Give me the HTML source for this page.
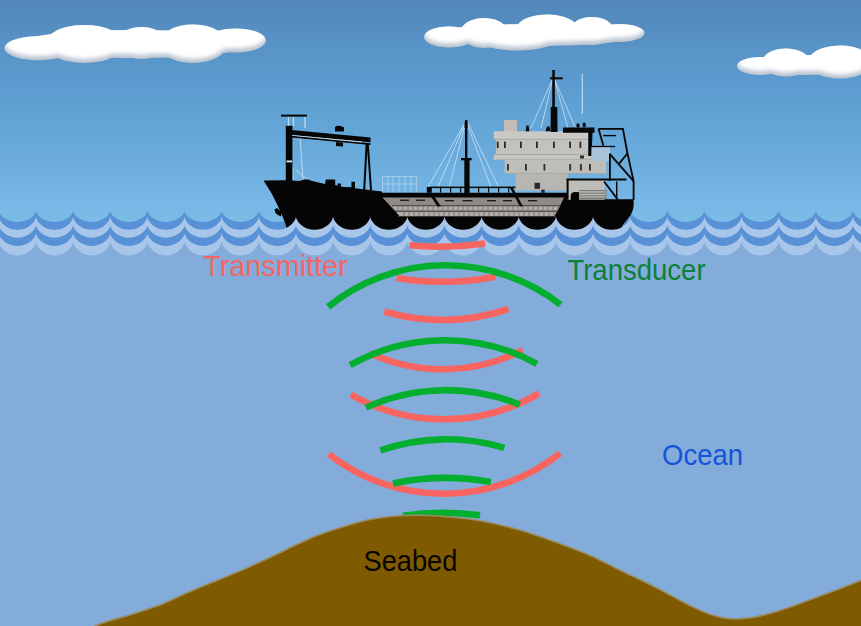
<!DOCTYPE html>
<html><head><meta charset="utf-8">
<style>
html,body{margin:0;padding:0;background:#83acda;}
body{width:861px;height:626px;overflow:hidden;}
svg{display:block;}
text{font-family:"Liberation Sans",sans-serif;}
</style></head>
<body>
<svg width="861" height="626" viewBox="0 0 861 626">
<defs>
<linearGradient id="sky" x1="0" y1="0" x2="0" y2="260" gradientUnits="userSpaceOnUse">
<stop offset="0.000" stop-color="#5186ba"/>
<stop offset="0.077" stop-color="#558cbf"/>
<stop offset="0.154" stop-color="#5792c6"/>
<stop offset="0.308" stop-color="#5b9ace"/>
<stop offset="0.462" stop-color="#62a4d6"/>
<stop offset="0.615" stop-color="#6bacdd"/>
<stop offset="0.769" stop-color="#77b7e5"/>
<stop offset="0.846" stop-color="#7bbbe8"/>
<stop offset="1.000" stop-color="#7ebde9"/>
</linearGradient>
<radialGradient id="cl" cx="0.5" cy="0.38" r="0.62">
<stop offset="0" stop-color="#ffffff"/>
<stop offset="0.62" stop-color="#fbfbfb"/>
<stop offset="0.85" stop-color="#e9ecef"/>
<stop offset="1" stop-color="#c3ccd6"/>
</radialGradient>
<filter id="cb" x="-10%" y="-50%" width="120%" height="200%"><feGaussianBlur stdDeviation="2.3"/></filter>
<filter id="cb2" x="-10%" y="-50%" width="120%" height="200%"><feGaussianBlur stdDeviation="0.7"/></filter>
<clipPath id="cc0"><ellipse cx="38" cy="48.2" rx="33.5" ry="12"/><ellipse cx="84.5" cy="44" rx="39.5" ry="19"/><ellipse cx="141.5" cy="43" rx="25" ry="16"/><ellipse cx="193" cy="43.8" rx="34" ry="19.2"/><ellipse cx="236" cy="40.5" rx="30" ry="12"/><ellipse cx="135" cy="44" rx="118" ry="14"/></clipPath>
<g id="cg0"><ellipse cx="38" cy="48.2" rx="33.5" ry="12"/><ellipse cx="84.5" cy="44" rx="39.5" ry="19"/><ellipse cx="141.5" cy="43" rx="25" ry="16"/><ellipse cx="193" cy="43.8" rx="34" ry="19.2"/><ellipse cx="236" cy="40.5" rx="30" ry="12"/><ellipse cx="135" cy="44" rx="118" ry="14"/></g>
<clipPath id="cc1"><ellipse cx="449" cy="37" rx="25" ry="10.5"/><ellipse cx="484" cy="33" rx="24" ry="15"/><ellipse cx="517" cy="38" rx="42" ry="12.5"/><ellipse cx="547" cy="28" rx="30" ry="13.5"/><ellipse cx="592" cy="31" rx="22" ry="14"/><ellipse cx="620" cy="33" rx="24.5" ry="9"/><ellipse cx="535" cy="35" rx="105" ry="11"/></clipPath>
<g id="cg1"><ellipse cx="449" cy="37" rx="25" ry="10.5"/><ellipse cx="484" cy="33" rx="24" ry="15"/><ellipse cx="517" cy="38" rx="42" ry="12.5"/><ellipse cx="547" cy="28" rx="30" ry="13.5"/><ellipse cx="592" cy="31" rx="22" ry="14"/><ellipse cx="620" cy="33" rx="24.5" ry="9"/><ellipse cx="535" cy="35" rx="105" ry="11"/></g>
<clipPath id="cc2"><ellipse cx="760" cy="66" rx="23" ry="9"/><ellipse cx="786" cy="62.5" rx="24" ry="14"/><ellipse cx="840" cy="62" rx="32" ry="16.5"/><ellipse cx="805" cy="65" rx="65" ry="10"/></clipPath>
<g id="cg2"><ellipse cx="760" cy="66" rx="23" ry="9"/><ellipse cx="786" cy="62.5" rx="24" ry="14"/><ellipse cx="840" cy="62" rx="32" ry="16.5"/><ellipse cx="805" cy="65" rx="65" ry="10"/></g>
</defs>
<rect x="0" y="0" width="861" height="260" fill="url(#sky)"/>
<!-- clouds -->
<use href="#cg0" fill="#b9c3ce" filter="url(#cb2)"/>
<g clip-path="url(#cc0)"><use href="#cg0" fill="#ffffff" transform="translate(0,-4)" filter="url(#cb)"/></g>
<use href="#cg1" fill="#b9c3ce" filter="url(#cb2)"/>
<g clip-path="url(#cc1)"><use href="#cg1" fill="#ffffff" transform="translate(0,-4)" filter="url(#cb)"/></g>
<use href="#cg2" fill="#b9c3ce" filter="url(#cb2)"/>
<g clip-path="url(#cc2)"><use href="#cg2" fill="#ffffff" transform="translate(0,-4)" filter="url(#cb)"/></g>
<path d="M-38.3,210.8L-38.3,211.0L-38.1,211.5L-37.8,212.4L-37.2,213.6L-36.2,214.9L-34.9,216.4L-33.1,217.8L-31.0,219.1L-28.5,220.3L-25.8,221.2L-22.8,221.7L-19.7,221.9L-16.6,221.7L-13.7,221.2L-10.9,220.3L-8.4,219.1L-6.3,217.8L-4.5,216.4L-3.2,214.9L-2.2,213.6L-1.6,212.4L-1.3,211.5L-1.2,211.0L-1.1,210.8L-1.1,211.0L-1.0,211.5L-0.7,212.4L-0.1,213.6L0.9,214.9L2.2,216.4L4.0,217.8L6.1,219.1L8.6,220.3L11.4,221.2L14.4,221.7L17.4,221.9L20.5,221.7L23.5,221.2L26.3,220.3L28.7,219.1L30.9,217.8L32.6,216.4L34.0,214.9L34.9,213.6L35.5,212.4L35.9,211.5L36.0,211.0L36.0,210.8L36.0,211.0L36.1,211.5L36.5,212.4L37.1,213.6L38.0,214.9L39.4,216.4L41.1,217.8L43.3,219.1L45.7,220.3L48.5,221.2L51.5,221.7L54.6,221.9L57.6,221.7L60.6,221.2L63.4,220.3L65.9,219.1L68.0,217.8L69.8,216.4L71.1,214.9L72.1,213.6L72.7,212.4L73.0,211.5L73.1,211.0L73.1,210.8L73.2,211.0L73.3,211.5L73.6,212.4L74.2,213.6L75.2,214.9L76.5,216.4L78.3,217.8L80.4,219.1L82.9,220.3L85.7,221.2L88.6,221.7L91.7,221.9L94.8,221.7L97.8,221.2L100.5,220.3L103.0,219.1L105.1,217.8L106.9,216.4L108.2,214.9L109.2,213.6L109.8,212.4L110.1,211.5L110.3,211.0L110.3,210.8L110.3,211.0L110.4,211.5L110.7,212.4L111.3,213.6L112.3,214.9L113.6,216.4L115.4,217.8L117.5,219.1L120.0,220.3L122.8,221.2L125.8,221.7L128.8,221.9L131.9,221.7L134.9,221.2L137.7,220.3L140.1,219.1L142.3,217.8L144.0,216.4L145.4,214.9L146.3,213.6L146.9,212.4L147.3,211.5L147.4,211.0L147.4,210.8L147.4,211.0L147.5,211.5L147.9,212.4L148.5,213.6L149.4,214.9L150.8,216.4L152.5,217.8L154.7,219.1L157.2,220.3L159.9,221.2L162.9,221.7L166.0,221.9L169.1,221.7L172.0,221.2L174.8,220.3L177.3,219.1L179.4,217.8L181.2,216.4L182.5,214.9L183.5,213.6L184.1,212.4L184.4,211.5L184.5,211.0L184.5,210.8L184.6,211.0L184.7,211.5L185.0,212.4L185.6,213.6L186.6,214.9L187.9,216.4L189.7,217.8L191.8,219.1L194.3,220.3L197.1,221.2L200.0,221.7L203.1,221.9L206.2,221.7L209.2,221.2L211.9,220.3L214.4,219.1L216.6,217.8L218.3,216.4L219.7,214.9L220.6,213.6L221.2,212.4L221.5,211.5L221.7,211.0L221.7,210.8L221.7,211.0L221.8,211.5L222.1,212.4L222.8,213.6L223.7,214.9L225.1,216.4L226.8,217.8L228.9,219.1L231.4,220.3L234.2,221.2L237.2,221.7L240.2,221.9L243.3,221.7L246.3,221.2L249.1,220.3L251.6,219.1L253.7,217.8L255.4,216.4L256.8,214.9L257.7,213.6L258.4,212.4L258.7,211.5L258.8,211.0L258.8,210.8L258.8,211.0L259.0,211.5L259.3,212.4L259.9,213.6L260.8,214.9L262.2,216.4L263.9,217.8L266.1,219.1L268.6,220.3L271.3,221.2L274.3,221.7L277.4,221.9L280.5,221.7L283.4,221.2L286.2,220.3L288.7,219.1L290.8,217.8L292.6,216.4L293.9,214.9L294.9,213.6L295.5,212.4L295.8,211.5L295.9,211.0L296.0,210.8L296.0,211.0L296.1,211.5L296.4,212.4L297.0,213.6L298.0,214.9L299.3,216.4L301.1,217.8L303.2,219.1L305.7,220.3L308.5,221.2L311.4,221.7L314.5,221.9L317.6,221.7L320.6,221.2L323.3,220.3L325.8,219.1L328.0,217.8L329.7,216.4L331.1,214.9L332.0,213.6L332.6,212.4L332.9,211.5L333.1,211.0L333.1,210.8L333.1,211.0L333.2,211.5L333.6,212.4L334.2,213.6L335.1,214.9L336.5,216.4L338.2,217.8L340.3,219.1L342.8,220.3L345.6,221.2L348.6,221.7L351.7,221.9L354.7,221.7L357.7,221.2L360.5,220.3L363.0,219.1L365.1,217.8L366.9,216.4L368.2,214.9L369.2,213.6L369.8,212.4L370.1,211.5L370.2,211.0L370.2,210.8L370.2,211.0L370.4,211.5L370.7,212.4L371.3,213.6L372.3,214.9L373.6,216.4L375.3,217.8L377.5,219.1L380.0,220.3L382.7,221.2L385.7,221.7L388.8,221.9L391.9,221.7L394.8,221.2L397.6,220.3L400.1,219.1L402.2,217.8L404.0,216.4L405.3,214.9L406.3,213.6L406.9,212.4L407.2,211.5L407.3,211.0L407.4,210.8L407.4,211.0L407.5,211.5L407.8,212.4L408.4,213.6L409.4,214.9L410.7,216.4L412.5,217.8L414.6,219.1L417.1,220.3L419.9,221.2L422.9,221.7L425.9,221.9L429.0,221.7L432.0,221.2L434.7,220.3L437.2,219.1L439.4,217.8L441.1,216.4L442.5,214.9L443.4,213.6L444.0,212.4L444.4,211.5L444.5,211.0L444.5,210.8L444.5,211.0L444.6,211.5L445.0,212.4L445.6,213.6L446.5,214.9L447.9,216.4L449.6,217.8L451.8,219.1L454.2,220.3L457.0,221.2L460.0,221.7L463.1,221.9L466.1,221.7L469.1,221.2L471.9,220.3L474.4,219.1L476.5,217.8L478.3,216.4L479.6,214.9L480.6,213.6L481.2,212.4L481.5,211.5L481.6,211.0L481.6,210.8L481.6,211.0L481.8,211.5L482.1,212.4L482.7,213.6L483.7,214.9L485.0,216.4L486.8,217.8L488.9,219.1L491.4,220.3L494.2,221.2L497.1,221.7L500.2,221.9L503.3,221.7L506.2,221.2L509.0,220.3L511.5,219.1L513.6,217.8L515.4,216.4L516.7,214.9L517.7,213.6L518.3,212.4L518.6,211.5L518.8,211.0L518.8,210.8L518.8,211.0L518.9,211.5L519.2,212.4L519.8,213.6L520.8,214.9L522.1,216.4L523.9,217.8L526.0,219.1L528.5,220.3L531.3,221.2L534.3,221.7L537.3,221.9L540.4,221.7L543.4,221.2L546.2,220.3L548.6,219.1L550.8,217.8L552.5,216.4L553.9,214.9L554.8,213.6L555.4,212.4L555.8,211.5L555.9,211.0L555.9,210.8L555.9,211.0L556.0,211.5L556.4,212.4L557.0,213.6L557.9,214.9L559.3,216.4L561.0,217.8L563.2,219.1L565.7,220.3L568.4,221.2L571.4,221.7L574.5,221.9L577.5,221.7L580.5,221.2L583.3,220.3L585.8,219.1L587.9,217.8L589.7,216.4L591.0,214.9L592.0,213.6L592.6,212.4L592.9,211.5L593.0,211.0L593.0,210.8L593.1,211.0L593.2,211.5L593.5,212.4L594.1,213.6L595.1,214.9L596.4,216.4L598.2,217.8L600.3,219.1L602.8,220.3L605.6,221.2L608.5,221.7L611.6,221.9L614.7,221.7L617.7,221.2L620.4,220.3L622.9,219.1L625.1,217.8L626.8,216.4L628.1,214.9L629.1,213.6L629.7,212.4L630.0,211.5L630.2,211.0L630.2,210.8L630.2,211.0L630.3,211.5L630.6,212.4L631.2,213.6L632.2,214.9L633.5,216.4L635.3,217.8L637.4,219.1L639.9,220.3L642.7,221.2L645.7,221.7L648.7,221.9L651.8,221.7L654.8,221.2L657.6,220.3L660.1,219.1L662.2,217.8L663.9,216.4L665.3,214.9L666.2,213.6L666.8,212.4L667.2,211.5L667.3,211.0L667.3,210.8L667.3,211.0L667.5,211.5L667.8,212.4L668.4,213.6L669.3,214.9L670.7,216.4L672.4,217.8L674.6,219.1L677.1,220.3L679.8,221.2L682.8,221.7L685.9,221.9L689.0,221.7L691.9,221.2L694.7,220.3L697.2,219.1L699.3,217.8L701.1,216.4L702.4,214.9L703.4,213.6L704.0,212.4L704.3,211.5L704.4,211.0L704.4,210.8L704.5,211.0L704.6,211.5L704.9,212.4L705.5,213.6L706.5,214.9L707.8,216.4L709.6,217.8L711.7,219.1L714.2,220.3L717.0,221.2L719.9,221.7L723.0,221.9L726.1,221.7L729.1,221.2L731.8,220.3L734.3,219.1L736.5,217.8L738.2,216.4L739.6,214.9L740.5,213.6L741.1,212.4L741.4,211.5L741.6,211.0L741.6,210.8L741.6,211.0L741.7,211.5L742.0,212.4L742.7,213.6L743.6,214.9L745.0,216.4L746.7,217.8L748.8,219.1L751.3,220.3L754.1,221.2L757.1,221.7L760.2,221.9L763.2,221.7L766.2,221.2L769.0,220.3L771.5,219.1L773.6,217.8L775.3,216.4L776.7,214.9L777.6,213.6L778.3,212.4L778.6,211.5L778.7,211.0L778.7,210.8L778.7,211.0L778.9,211.5L779.2,212.4L779.8,213.6L780.7,214.9L782.1,216.4L783.8,217.8L786.0,219.1L788.5,220.3L791.2,221.2L794.2,221.7L797.3,221.9L800.4,221.7L803.3,221.2L806.1,220.3L808.6,219.1L810.7,217.8L812.5,216.4L813.8,214.9L814.8,213.6L815.4,212.4L815.7,211.5L815.8,211.0L815.9,210.8L815.9,211.0L816.0,211.5L816.3,212.4L816.9,213.6L817.9,214.9L819.2,216.4L821.0,217.8L823.1,219.1L825.6,220.3L828.4,221.2L831.3,221.7L834.4,221.9L837.5,221.7L840.5,221.2L843.2,220.3L845.7,219.1L847.9,217.8L849.6,216.4L851.0,214.9L851.9,213.6L852.5,212.4L852.9,211.5L853.0,211.0L853.0,210.8L853.0,211.0L853.1,211.5L853.5,212.4L854.1,213.6L855.0,214.9L856.4,216.4L858.1,217.8L860.3,219.1L862.7,220.3L865.5,221.2L868.5,221.7L871.6,221.9L874.6,221.7L877.6,221.2L880.4,220.3L882.9,219.1L885.0,217.8L886.8,216.4L888.1,214.9L889.1,213.6L889.7,212.4L890.0,211.5L890.1,211.0L890.1,210.8L890.1,211.0L890.3,211.5L890.6,212.4L891.2,213.6L892.2,214.9L893.5,216.4L895.3,217.8L897.4,219.1L899.9,220.3L902.6,221.2L905.6,221.7L908.7,221.9L911.8,221.7L914.7,221.2L917.5,220.3L920.0,219.1L922.1,217.8L923.9,216.4L925.2,214.9L926.2,213.6L926.8,212.4L927.1,211.5L927.2,211.0L927.3,210.8L927.3,640L-38.3,640Z" fill="#5891d5"/>
<g id="ship">
<!-- white stays (behind) -->
<g stroke="#cfe6f6" stroke-width="0.9" fill="none" opacity="0.85">
<path d="M466,121 L428,187 M466,121 L438,187 M466,121 L449,188 M466,121 L491,187 M467,121 L499,188"/>
<path d="M553,78 L531,128 M553,78 L541,128 M554,78 L568,128 M554,78 L575,127"/>
<path d="M582.3,74 L582.3,114" stroke-width="1.2"/>
<path d="M288.5,117 L288.5,126 M293.5,117 L293.5,126 M305,117 L305,128" stroke-width="1.3"/>
<path d="M300,137 L303,180 M296,170 L310,182 M293,168 L293,180"/>
</g>
<!-- crane -->
<g fill="#060606">
<rect x="281" y="114.6" width="26" height="2"/>
<rect x="285.8" y="125.8" width="6.6" height="57"/>
<path d="M286,129.6 L370.5,137.6 L370.5,142.2 L286,134.4 Z"/>
<path d="M292,135.8 L370.5,143.2 L370.5,145 L292,137.6 Z"/>
<path d="M335,127 Q339,124.5 344,127.5 L344,131.5 L335,131.5 Z"/>
<path d="M336,142 L343,142.5 L343,146.5 L336,146 Z"/>
<path d="M365.6,144 L368.8,144 L372,190 L370,190 L367.3,151 L365.2,190 L363.2,190 Z"/>
</g>
<rect x="286.5" y="160.5" width="5.6" height="1.8" fill="#e8eef2"/>
<rect x="292" y="134.9" width="70" height="0.9" fill="#cfd6dc" transform="rotate(5.4 292 135)"/>
<!-- light railing box -->
<g stroke="#d8e8f4" stroke-width="0.8" fill="none" opacity="0.6">
<path d="M382.5,176.5 L416.5,176.5 L416.5,191.5 M382.5,176.5 L382.5,191.5 M388,176.5 L388,191.5 M393,176.5 L393,191.5 M399,176.5 L399,191.5 M405,176.5 L405,191.5 M411,176.5 L411,191.5 M382.5,184 L416.5,184"/>
</g>
<!-- hull -->
<path fill="#050505" d="M263.5,180.6 L286,180.3 L300,181 Q306,177.5 312,181 L325,184 L325.8,179.4 L335.2,179.4 L335.2,185.3 L337.5,185.6 L337.5,183.6 L341,183.6 L341,186.8 L351.4,187.3 L351.4,181.7 L355,181.7 L355,188.3 L382,191.5 L382,192.8 L567,192.8 L567,199.3 L633.4,199.3 C634.6,207 632.5,213.5 628,218.5 L622,226 L622,240 L292,240 L287.5,232 L285.5,224 L282.3,216.1 L277.2,204.5 L271.4,192.9 Z"/>
<path fill="#050505" d="M274.5,209.5 L277,208 L281.5,212 L281,216.5 L278,215 L275.5,213 Z"/>
<!-- mid gray cargo section -->
<path fill="#8f8a86" d="M382.4,197.4 L564,197.4 Q560,207 553.9,217 L400.5,217 Z"/>
<path fill="#b1aca7" d="M392.3,206 L559.5,206 L554.2,216.2 L399.6,216.2 Z"/>
<g fill="#3a3532">
<rect x="392" y="205.3" width="168" height="0.9"/>
<rect x="395" y="210.6" width="163" height="1.1"/>
<rect x="398" y="216" width="158" height="1"/>
</g>
<g stroke="#6d6762" stroke-width="0.8">
<path d="M398,206.2V210.6 M403,206.2V210.6 M408,206.2V210.6 M413,206.2V210.6 M418,206.2V210.6 M423,206.2V210.6 M428,206.2V210.6 M433,206.2V210.6 M438,206.2V210.6 M443,206.2V210.6 M448,206.2V210.6 M453,206.2V210.6 M458,206.2V210.6 M463,206.2V210.6 M468,206.2V210.6 M473,206.2V210.6 M478,206.2V210.6 M483,206.2V210.6 M488,206.2V210.6 M493,206.2V210.6 M498,206.2V210.6 M503,206.2V210.6 M508,206.2V210.6 M513,206.2V210.6 M518,206.2V210.6 M523,206.2V210.6 M528,206.2V210.6 M533,206.2V210.6 M538,206.2V210.6 M543,206.2V210.6 M548,206.2V210.6 M553,206.2V210.6 M558,206.2V210.6"/>
<path d="M404,211.6V216 M409,211.6V216 M414,211.6V216 M419,211.6V216 M424,211.6V216 M429,211.6V216 M434,211.6V216 M439,211.6V216 M444,211.6V216 M449,211.6V216 M454,211.6V216 M459,211.6V216 M464,211.6V216 M469,211.6V216 M474,211.6V216 M479,211.6V216 M484,211.6V216 M489,211.6V216 M494,211.6V216 M499,211.6V216 M504,211.6V216 M509,211.6V216 M514,211.6V216 M519,211.6V216 M524,211.6V216 M529,211.6V216 M534,211.6V216 M539,211.6V216 M544,211.6V216 M549,211.6V216 M554,211.6V216"/>
</g>
<g fill="#1a1716">
<rect x="400" y="199.6" width="9" height="1.3"/>
<rect x="416" y="199.6" width="9" height="1.3"/>
<rect x="445" y="200" width="9" height="1.3"/>
<rect x="462.5" y="200" width="10" height="1.3"/>
<rect x="487" y="200" width="9" height="1.3"/>
<rect x="503" y="200" width="9" height="1.3"/>
<rect x="528" y="200" width="9" height="1.3"/>
</g>
<path d="M431,196.8 L434.5,196.8 L441,206.6 L437.5,206.6 Z" fill="#0a0a0a"/>
<path d="M510,188 L513,188 L523,206.6 L520,206.6 Z" fill="#0a0a0a"/>
<!-- midship rail -->
<g fill="#080808">
<rect x="426.8" y="186.8" width="5" height="6"/>
<rect x="431" y="186.6" width="140" height="1.5"/>
<rect x="440" y="186.6" width="1.2" height="6"/>
<rect x="450" y="186.6" width="1.2" height="6"/>
<rect x="460" y="186.6" width="1.2" height="6"/>
<rect x="478" y="186.6" width="1.2" height="6"/>
<rect x="488" y="186.6" width="1.2" height="6"/>
<rect x="498" y="186.6" width="1.2" height="6"/>
<rect x="508" y="186.6" width="1.2" height="6"/>
</g>
<!-- forward mast -->
<g fill="#070707">
<rect x="465" y="120" width="2.4" height="40"/>
<rect x="461" y="158" width="10.7" height="2.3"/>
<rect x="464.3" y="159.6" width="5.3" height="34"/>
<rect x="464.5" y="122" width="3" height="6"/>
</g>
<!-- superstructure -->
<g>
<rect x="504" y="120" width="13" height="12" fill="#c6bcb7"/>
<rect x="493.8" y="131.3" width="94.5" height="8.3" fill="#cac9c5"/>
<rect x="495.9" y="139.4" width="92.4" height="15.2" fill="#c3c2be"/>
<rect x="493.8" y="154.4" width="102" height="5.6" fill="#c6c5c1"/>
<rect x="504.7" y="159.8" width="101.5" height="13.8" fill="#bebdb8"/>
<rect x="515.5" y="173.4" width="52" height="17" fill="#b7b6b1"/>
</g>
<g fill="#a9a5a1">
<rect x="494" y="138.8" width="94" height="0.9"/>
<rect x="494" y="153.9" width="100" height="0.9"/>
<rect x="505" y="172.8" width="100" height="0.9"/>
<rect x="496" y="158.9" width="108" height="0.8"/>
</g>
<g fill="#2e2a28">
<rect x="496.8" y="141.6" width="1.8" height="6.5"/>
<rect x="504" y="141.6" width="1.8" height="6.5"/>
<rect x="520" y="141.6" width="1.8" height="6.5"/>
<rect x="536" y="141.6" width="1.8" height="6.5"/>
<rect x="553" y="141.6" width="1.8" height="6.5"/>
<rect x="569.2" y="141.6" width="1.8" height="6.5"/>
<rect x="579.5" y="141.6" width="1.8" height="6.5"/>
<rect x="507" y="164" width="1.8" height="6.5"/>
<rect x="525" y="164" width="1.8" height="6.5"/>
<rect x="543.5" y="164" width="1.8" height="6.5"/>
<rect x="569.3" y="164" width="1.8" height="6.5"/>
<rect x="580" y="164" width="1.8" height="6.5"/>
<rect x="589" y="164" width="1.8" height="6.5"/>
<rect x="534.5" y="182.8" width="5.5" height="6"/>
<rect x="541.3" y="189.6" width="3.4" height="3.5"/>
<rect x="580" y="155.5" width="4" height="3" />
</g>
<!-- black funnel / upper bridge -->
<g fill="#070707">
<path d="M563,127.6 L594.5,127.6 L594.5,132.8 L592.5,132.8 L591.5,156 L588.3,156 L588.3,132.8 L563,132.8 Z"/>
<ellipse cx="578" cy="125.5" rx="1.6" ry="2.2"/>
<ellipse cx="584.2" cy="125" rx="1.6" ry="2.4"/>
<path d="M525.6,131.3 L526.5,125.5 L528.5,125.5 L529.4,131.3 Z"/>
<path d="M545.5,131.3 L547,126.5 L549.5,126.5 L550.5,131.3 Z"/>
<!-- main mast -->
<rect x="552.3" y="70" width="2.5" height="40"/>
<path d="M550.8,107 L557.3,107 L557.5,132 L550.6,132 Z"/>
<rect x="550" y="77.3" width="12.7" height="2"/>
</g>
<!-- stern lower box -->
<rect x="567.5" y="180.2" width="37" height="19.5" fill="#bdbcb7"/>
<g fill="#7f7a76">
<rect x="579" y="190" width="28" height="1.2"/>
<rect x="579" y="192.6" width="28" height="1.2"/>
<rect x="579" y="195.2" width="28" height="1.2"/>
<rect x="579" y="197.6" width="28" height="1.4"/>
</g>
<path d="M570.7,200 L570.7,195 Q571.5,192 575,192 L579,192.3 L579,200 Z" fill="#050505"/>
<rect x="591.5" y="146.8" width="18.5" height="14.5" fill="#a9c2d8"/>
<!-- stern frame -->
<g stroke="#060606" fill="none" stroke-width="1.8">
<path d="M598.5,128.8 L622.9,128.8 L627.5,153.5 L633.6,181.2 L633.6,200"/>
<path d="M598.5,128.8 L603.4,145.8"/>
<path d="M609.9,154.2 L633.6,181.2"/>
<path d="M619.2,163.6 L627.5,153.2"/>
<path d="M609.9,153.5 L609.9,181"/>
<path d="M591.2,146.5 L615.1,146.5" stroke-width="1.3"/>
<path d="M603.2,135.6 L616.1,135.6" stroke-width="1.4"/>
<path d="M566.5,179.5 L626.5,179.5" stroke-width="2"/>
<path d="M567.6,179.5 L567.6,199.5" stroke-width="2"/>
<path d="M604.1,181.5 L617.7,199.5" />
<path d="M616.7,181.5 L616.7,199.5" stroke-width="1.4"/>
</g>
</g>

<path d="M-38.3,216.6L-38.3,216.8L-38.1,217.5L-37.8,218.5L-37.2,219.9L-36.2,221.5L-34.9,223.2L-33.1,224.9L-31.0,226.5L-28.5,227.9L-25.8,228.9L-22.8,229.6L-19.7,229.8L-16.6,229.6L-13.7,228.9L-10.9,227.9L-8.4,226.5L-6.3,224.9L-4.5,223.2L-3.2,221.5L-2.2,219.9L-1.6,218.5L-1.3,217.5L-1.2,216.8L-1.1,216.6L-1.1,216.8L-1.0,217.5L-0.7,218.5L-0.1,219.9L0.9,221.5L2.2,223.2L4.0,224.9L6.1,226.5L8.6,227.9L11.4,228.9L14.4,229.6L17.4,229.8L20.5,229.6L23.5,228.9L26.3,227.9L28.7,226.5L30.9,224.9L32.6,223.2L34.0,221.5L34.9,219.9L35.5,218.5L35.9,217.5L36.0,216.8L36.0,216.6L36.0,216.8L36.1,217.5L36.5,218.5L37.1,219.9L38.0,221.5L39.4,223.2L41.1,224.9L43.3,226.5L45.7,227.9L48.5,228.9L51.5,229.6L54.6,229.8L57.6,229.6L60.6,228.9L63.4,227.9L65.9,226.5L68.0,224.9L69.8,223.2L71.1,221.5L72.1,219.9L72.7,218.5L73.0,217.5L73.1,216.8L73.1,216.6L73.2,216.8L73.3,217.5L73.6,218.5L74.2,219.9L75.2,221.5L76.5,223.2L78.3,224.9L80.4,226.5L82.9,227.9L85.7,228.9L88.6,229.6L91.7,229.8L94.8,229.6L97.8,228.9L100.5,227.9L103.0,226.5L105.1,224.9L106.9,223.2L108.2,221.5L109.2,219.9L109.8,218.5L110.1,217.5L110.3,216.8L110.3,216.6L110.3,216.8L110.4,217.5L110.7,218.5L111.3,219.9L112.3,221.5L113.6,223.2L115.4,224.9L117.5,226.5L120.0,227.9L122.8,228.9L125.8,229.6L128.8,229.8L131.9,229.6L134.9,228.9L137.7,227.9L140.1,226.5L142.3,224.9L144.0,223.2L145.4,221.5L146.3,219.9L146.9,218.5L147.3,217.5L147.4,216.8L147.4,216.6L147.4,216.8L147.5,217.5L147.9,218.5L148.5,219.9L149.4,221.5L150.8,223.2L152.5,224.9L154.7,226.5L157.2,227.9L159.9,228.9L162.9,229.6L166.0,229.8L169.1,229.6L172.0,228.9L174.8,227.9L177.3,226.5L179.4,224.9L181.2,223.2L182.5,221.5L183.5,219.9L184.1,218.5L184.4,217.5L184.5,216.8L184.5,216.6L184.6,216.8L184.7,217.5L185.0,218.5L185.6,219.9L186.6,221.5L187.9,223.2L189.7,224.9L191.8,226.5L194.3,227.9L197.1,228.9L200.0,229.6L203.1,229.8L206.2,229.6L209.2,228.9L211.9,227.9L214.4,226.5L216.6,224.9L218.3,223.2L219.7,221.5L220.6,219.9L221.2,218.5L221.5,217.5L221.7,216.8L221.7,216.6L221.7,216.8L221.8,217.5L222.1,218.5L222.8,219.9L223.7,221.5L225.1,223.2L226.8,224.9L228.9,226.5L231.4,227.9L234.2,228.9L237.2,229.6L240.2,229.8L243.3,229.6L246.3,228.9L249.1,227.9L251.6,226.5L253.7,224.9L255.4,223.2L256.8,221.5L257.7,219.9L258.4,218.5L258.7,217.5L258.8,216.8L258.8,216.6L258.8,216.8L259.0,217.5L259.3,218.5L259.9,219.9L260.8,221.5L262.2,223.2L263.9,224.9L266.1,226.5L268.6,227.9L271.3,228.9L274.3,229.6L277.4,229.8L280.5,229.6L283.4,228.9L286.2,227.9L288.7,226.5L290.8,224.9L292.6,223.2L293.9,221.5L294.9,219.9L295.5,218.5L295.8,217.5L295.9,216.8L296.0,216.6L296.0,216.8L296.1,217.5L296.4,218.5L297.0,219.9L298.0,221.5L299.3,223.2L301.1,224.9L303.2,226.5L305.7,227.9L308.5,228.9L311.4,229.6L314.5,229.8L317.6,229.6L320.6,228.9L323.3,227.9L325.8,226.5L328.0,224.9L329.7,223.2L331.1,221.5L332.0,219.9L332.6,218.5L332.9,217.5L333.1,216.8L333.1,216.6L333.1,216.8L333.2,217.5L333.6,218.5L334.2,219.9L335.1,221.5L336.5,223.2L338.2,224.9L340.3,226.5L342.8,227.9L345.6,228.9L348.6,229.6L351.7,229.8L354.7,229.6L357.7,228.9L360.5,227.9L363.0,226.5L365.1,224.9L366.9,223.2L368.2,221.5L369.2,219.9L369.8,218.5L370.1,217.5L370.2,216.8L370.2,216.6L370.2,216.8L370.4,217.5L370.7,218.5L371.3,219.9L372.3,221.5L373.6,223.2L375.3,224.9L377.5,226.5L380.0,227.9L382.7,228.9L385.7,229.6L388.8,229.8L391.9,229.6L394.8,228.9L397.6,227.9L400.1,226.5L402.2,224.9L404.0,223.2L405.3,221.5L406.3,219.9L406.9,218.5L407.2,217.5L407.3,216.8L407.4,216.6L407.4,216.8L407.5,217.5L407.8,218.5L408.4,219.9L409.4,221.5L410.7,223.2L412.5,224.9L414.6,226.5L417.1,227.9L419.9,228.9L422.9,229.6L425.9,229.8L429.0,229.6L432.0,228.9L434.7,227.9L437.2,226.5L439.4,224.9L441.1,223.2L442.5,221.5L443.4,219.9L444.0,218.5L444.4,217.5L444.5,216.8L444.5,216.6L444.5,216.8L444.6,217.5L445.0,218.5L445.6,219.9L446.5,221.5L447.9,223.2L449.6,224.9L451.8,226.5L454.2,227.9L457.0,228.9L460.0,229.6L463.1,229.8L466.1,229.6L469.1,228.9L471.9,227.9L474.4,226.5L476.5,224.9L478.3,223.2L479.6,221.5L480.6,219.9L481.2,218.5L481.5,217.5L481.6,216.8L481.6,216.6L481.6,216.8L481.8,217.5L482.1,218.5L482.7,219.9L483.7,221.5L485.0,223.2L486.8,224.9L488.9,226.5L491.4,227.9L494.2,228.9L497.1,229.6L500.2,229.8L503.3,229.6L506.2,228.9L509.0,227.9L511.5,226.5L513.6,224.9L515.4,223.2L516.7,221.5L517.7,219.9L518.3,218.5L518.6,217.5L518.8,216.8L518.8,216.6L518.8,216.8L518.9,217.5L519.2,218.5L519.8,219.9L520.8,221.5L522.1,223.2L523.9,224.9L526.0,226.5L528.5,227.9L531.3,228.9L534.3,229.6L537.3,229.8L540.4,229.6L543.4,228.9L546.2,227.9L548.6,226.5L550.8,224.9L552.5,223.2L553.9,221.5L554.8,219.9L555.4,218.5L555.8,217.5L555.9,216.8L555.9,216.6L555.9,216.8L556.0,217.5L556.4,218.5L557.0,219.9L557.9,221.5L559.3,223.2L561.0,224.9L563.2,226.5L565.7,227.9L568.4,228.9L571.4,229.6L574.5,229.8L577.5,229.6L580.5,228.9L583.3,227.9L585.8,226.5L587.9,224.9L589.7,223.2L591.0,221.5L592.0,219.9L592.6,218.5L592.9,217.5L593.0,216.8L593.0,216.6L593.1,216.8L593.2,217.5L593.5,218.5L594.1,219.9L595.1,221.5L596.4,223.2L598.2,224.9L600.3,226.5L602.8,227.9L605.6,228.9L608.5,229.6L611.6,229.8L614.7,229.6L617.7,228.9L620.4,227.9L622.9,226.5L625.1,224.9L626.8,223.2L628.1,221.5L629.1,219.9L629.7,218.5L630.0,217.5L630.2,216.8L630.2,216.6L630.2,216.8L630.3,217.5L630.6,218.5L631.2,219.9L632.2,221.5L633.5,223.2L635.3,224.9L637.4,226.5L639.9,227.9L642.7,228.9L645.7,229.6L648.7,229.8L651.8,229.6L654.8,228.9L657.6,227.9L660.1,226.5L662.2,224.9L663.9,223.2L665.3,221.5L666.2,219.9L666.8,218.5L667.2,217.5L667.3,216.8L667.3,216.6L667.3,216.8L667.5,217.5L667.8,218.5L668.4,219.9L669.3,221.5L670.7,223.2L672.4,224.9L674.6,226.5L677.1,227.9L679.8,228.9L682.8,229.6L685.9,229.8L689.0,229.6L691.9,228.9L694.7,227.9L697.2,226.5L699.3,224.9L701.1,223.2L702.4,221.5L703.4,219.9L704.0,218.5L704.3,217.5L704.4,216.8L704.4,216.6L704.5,216.8L704.6,217.5L704.9,218.5L705.5,219.9L706.5,221.5L707.8,223.2L709.6,224.9L711.7,226.5L714.2,227.9L717.0,228.9L719.9,229.6L723.0,229.8L726.1,229.6L729.1,228.9L731.8,227.9L734.3,226.5L736.5,224.9L738.2,223.2L739.6,221.5L740.5,219.9L741.1,218.5L741.4,217.5L741.6,216.8L741.6,216.6L741.6,216.8L741.7,217.5L742.0,218.5L742.7,219.9L743.6,221.5L745.0,223.2L746.7,224.9L748.8,226.5L751.3,227.9L754.1,228.9L757.1,229.6L760.2,229.8L763.2,229.6L766.2,228.9L769.0,227.9L771.5,226.5L773.6,224.9L775.3,223.2L776.7,221.5L777.6,219.9L778.3,218.5L778.6,217.5L778.7,216.8L778.7,216.6L778.7,216.8L778.9,217.5L779.2,218.5L779.8,219.9L780.7,221.5L782.1,223.2L783.8,224.9L786.0,226.5L788.5,227.9L791.2,228.9L794.2,229.6L797.3,229.8L800.4,229.6L803.3,228.9L806.1,227.9L808.6,226.5L810.7,224.9L812.5,223.2L813.8,221.5L814.8,219.9L815.4,218.5L815.7,217.5L815.8,216.8L815.9,216.6L815.9,216.8L816.0,217.5L816.3,218.5L816.9,219.9L817.9,221.5L819.2,223.2L821.0,224.9L823.1,226.5L825.6,227.9L828.4,228.9L831.3,229.6L834.4,229.8L837.5,229.6L840.5,228.9L843.2,227.9L845.7,226.5L847.9,224.9L849.6,223.2L851.0,221.5L851.9,219.9L852.5,218.5L852.9,217.5L853.0,216.8L853.0,216.6L853.0,216.8L853.1,217.5L853.5,218.5L854.1,219.9L855.0,221.5L856.4,223.2L858.1,224.9L860.3,226.5L862.7,227.9L865.5,228.9L868.5,229.6L871.6,229.8L874.6,229.6L877.6,228.9L880.4,227.9L882.9,226.5L885.0,224.9L886.8,223.2L888.1,221.5L889.1,219.9L889.7,218.5L890.0,217.5L890.1,216.8L890.1,216.6L890.1,216.8L890.3,217.5L890.6,218.5L891.2,219.9L892.2,221.5L893.5,223.2L895.3,224.9L897.4,226.5L899.9,227.9L902.6,228.9L905.6,229.6L908.7,229.8L911.8,229.6L914.7,228.9L917.5,227.9L920.0,226.5L922.1,224.9L923.9,223.2L925.2,221.5L926.2,219.9L926.8,218.5L927.1,217.5L927.2,216.8L927.3,216.6L927.3,640L-38.3,640Z" fill="#a8c5ea"/>
<path d="M-38.3,225.0L-38.3,225.2L-38.1,225.9L-37.8,226.9L-37.2,228.2L-36.2,229.7L-34.9,231.3L-33.1,233.0L-31.0,234.5L-28.5,235.8L-25.8,236.8L-22.8,237.5L-19.7,237.7L-16.6,237.5L-13.7,236.8L-10.9,235.8L-8.4,234.5L-6.3,233.0L-4.5,231.3L-3.2,229.7L-2.2,228.2L-1.6,226.9L-1.3,225.9L-1.2,225.2L-1.1,225.0L-1.1,225.2L-1.0,225.9L-0.7,226.9L-0.1,228.2L0.9,229.7L2.2,231.3L4.0,233.0L6.1,234.5L8.6,235.8L11.4,236.8L14.4,237.5L17.4,237.7L20.5,237.5L23.5,236.8L26.3,235.8L28.7,234.5L30.9,233.0L32.6,231.3L34.0,229.7L34.9,228.2L35.5,226.9L35.9,225.9L36.0,225.2L36.0,225.0L36.0,225.2L36.1,225.9L36.5,226.9L37.1,228.2L38.0,229.7L39.4,231.3L41.1,233.0L43.3,234.5L45.7,235.8L48.5,236.8L51.5,237.5L54.6,237.7L57.6,237.5L60.6,236.8L63.4,235.8L65.9,234.5L68.0,233.0L69.8,231.3L71.1,229.7L72.1,228.2L72.7,226.9L73.0,225.9L73.1,225.2L73.1,225.0L73.2,225.2L73.3,225.9L73.6,226.9L74.2,228.2L75.2,229.7L76.5,231.3L78.3,233.0L80.4,234.5L82.9,235.8L85.7,236.8L88.6,237.5L91.7,237.7L94.8,237.5L97.8,236.8L100.5,235.8L103.0,234.5L105.1,233.0L106.9,231.3L108.2,229.7L109.2,228.2L109.8,226.9L110.1,225.9L110.3,225.2L110.3,225.0L110.3,225.2L110.4,225.9L110.7,226.9L111.3,228.2L112.3,229.7L113.6,231.3L115.4,233.0L117.5,234.5L120.0,235.8L122.8,236.8L125.8,237.5L128.8,237.7L131.9,237.5L134.9,236.8L137.7,235.8L140.1,234.5L142.3,233.0L144.0,231.3L145.4,229.7L146.3,228.2L146.9,226.9L147.3,225.9L147.4,225.2L147.4,225.0L147.4,225.2L147.5,225.9L147.9,226.9L148.5,228.2L149.4,229.7L150.8,231.3L152.5,233.0L154.7,234.5L157.2,235.8L159.9,236.8L162.9,237.5L166.0,237.7L169.1,237.5L172.0,236.8L174.8,235.8L177.3,234.5L179.4,233.0L181.2,231.3L182.5,229.7L183.5,228.2L184.1,226.9L184.4,225.9L184.5,225.2L184.5,225.0L184.6,225.2L184.7,225.9L185.0,226.9L185.6,228.2L186.6,229.7L187.9,231.3L189.7,233.0L191.8,234.5L194.3,235.8L197.1,236.8L200.0,237.5L203.1,237.7L206.2,237.5L209.2,236.8L211.9,235.8L214.4,234.5L216.6,233.0L218.3,231.3L219.7,229.7L220.6,228.2L221.2,226.9L221.5,225.9L221.7,225.2L221.7,225.0L221.7,225.2L221.8,225.9L222.1,226.9L222.8,228.2L223.7,229.7L225.1,231.3L226.8,233.0L228.9,234.5L231.4,235.8L234.2,236.8L237.2,237.5L240.2,237.7L243.3,237.5L246.3,236.8L249.1,235.8L251.6,234.5L253.7,233.0L255.4,231.3L256.8,229.7L257.7,228.2L258.4,226.9L258.7,225.9L258.8,225.2L258.8,225.0L258.8,225.2L259.0,225.9L259.3,226.9L259.9,228.2L260.8,229.7L262.2,231.3L263.9,233.0L266.1,234.5L268.6,235.8L271.3,236.8L274.3,237.5L277.4,237.7L280.5,237.5L283.4,236.8L286.2,235.8L288.7,234.5L290.8,233.0L292.6,231.3L293.9,229.7L294.9,228.2L295.5,226.9L295.8,225.9L295.9,225.2L296.0,225.0L296.0,225.2L296.1,225.9L296.4,226.9L297.0,228.2L298.0,229.7L299.3,231.3L301.1,233.0L303.2,234.5L305.7,235.8L308.5,236.8L311.4,237.5L314.5,237.7L317.6,237.5L320.6,236.8L323.3,235.8L325.8,234.5L328.0,233.0L329.7,231.3L331.1,229.7L332.0,228.2L332.6,226.9L332.9,225.9L333.1,225.2L333.1,225.0L333.1,225.2L333.2,225.9L333.6,226.9L334.2,228.2L335.1,229.7L336.5,231.3L338.2,233.0L340.3,234.5L342.8,235.8L345.6,236.8L348.6,237.5L351.7,237.7L354.7,237.5L357.7,236.8L360.5,235.8L363.0,234.5L365.1,233.0L366.9,231.3L368.2,229.7L369.2,228.2L369.8,226.9L370.1,225.9L370.2,225.2L370.2,225.0L370.2,225.2L370.4,225.9L370.7,226.9L371.3,228.2L372.3,229.7L373.6,231.3L375.3,233.0L377.5,234.5L380.0,235.8L382.7,236.8L385.7,237.5L388.8,237.7L391.9,237.5L394.8,236.8L397.6,235.8L400.1,234.5L402.2,233.0L404.0,231.3L405.3,229.7L406.3,228.2L406.9,226.9L407.2,225.9L407.3,225.2L407.4,225.0L407.4,225.2L407.5,225.9L407.8,226.9L408.4,228.2L409.4,229.7L410.7,231.3L412.5,233.0L414.6,234.5L417.1,235.8L419.9,236.8L422.9,237.5L425.9,237.7L429.0,237.5L432.0,236.8L434.7,235.8L437.2,234.5L439.4,233.0L441.1,231.3L442.5,229.7L443.4,228.2L444.0,226.9L444.4,225.9L444.5,225.2L444.5,225.0L444.5,225.2L444.6,225.9L445.0,226.9L445.6,228.2L446.5,229.7L447.9,231.3L449.6,233.0L451.8,234.5L454.2,235.8L457.0,236.8L460.0,237.5L463.1,237.7L466.1,237.5L469.1,236.8L471.9,235.8L474.4,234.5L476.5,233.0L478.3,231.3L479.6,229.7L480.6,228.2L481.2,226.9L481.5,225.9L481.6,225.2L481.6,225.0L481.6,225.2L481.8,225.9L482.1,226.9L482.7,228.2L483.7,229.7L485.0,231.3L486.8,233.0L488.9,234.5L491.4,235.8L494.2,236.8L497.1,237.5L500.2,237.7L503.3,237.5L506.2,236.8L509.0,235.8L511.5,234.5L513.6,233.0L515.4,231.3L516.7,229.7L517.7,228.2L518.3,226.9L518.6,225.9L518.8,225.2L518.8,225.0L518.8,225.2L518.9,225.9L519.2,226.9L519.8,228.2L520.8,229.7L522.1,231.3L523.9,233.0L526.0,234.5L528.5,235.8L531.3,236.8L534.3,237.5L537.3,237.7L540.4,237.5L543.4,236.8L546.2,235.8L548.6,234.5L550.8,233.0L552.5,231.3L553.9,229.7L554.8,228.2L555.4,226.9L555.8,225.9L555.9,225.2L555.9,225.0L555.9,225.2L556.0,225.9L556.4,226.9L557.0,228.2L557.9,229.7L559.3,231.3L561.0,233.0L563.2,234.5L565.7,235.8L568.4,236.8L571.4,237.5L574.5,237.7L577.5,237.5L580.5,236.8L583.3,235.8L585.8,234.5L587.9,233.0L589.7,231.3L591.0,229.7L592.0,228.2L592.6,226.9L592.9,225.9L593.0,225.2L593.0,225.0L593.1,225.2L593.2,225.9L593.5,226.9L594.1,228.2L595.1,229.7L596.4,231.3L598.2,233.0L600.3,234.5L602.8,235.8L605.6,236.8L608.5,237.5L611.6,237.7L614.7,237.5L617.7,236.8L620.4,235.8L622.9,234.5L625.1,233.0L626.8,231.3L628.1,229.7L629.1,228.2L629.7,226.9L630.0,225.9L630.2,225.2L630.2,225.0L630.2,225.2L630.3,225.9L630.6,226.9L631.2,228.2L632.2,229.7L633.5,231.3L635.3,233.0L637.4,234.5L639.9,235.8L642.7,236.8L645.7,237.5L648.7,237.7L651.8,237.5L654.8,236.8L657.6,235.8L660.1,234.5L662.2,233.0L663.9,231.3L665.3,229.7L666.2,228.2L666.8,226.9L667.2,225.9L667.3,225.2L667.3,225.0L667.3,225.2L667.5,225.9L667.8,226.9L668.4,228.2L669.3,229.7L670.7,231.3L672.4,233.0L674.6,234.5L677.1,235.8L679.8,236.8L682.8,237.5L685.9,237.7L689.0,237.5L691.9,236.8L694.7,235.8L697.2,234.5L699.3,233.0L701.1,231.3L702.4,229.7L703.4,228.2L704.0,226.9L704.3,225.9L704.4,225.2L704.4,225.0L704.5,225.2L704.6,225.9L704.9,226.9L705.5,228.2L706.5,229.7L707.8,231.3L709.6,233.0L711.7,234.5L714.2,235.8L717.0,236.8L719.9,237.5L723.0,237.7L726.1,237.5L729.1,236.8L731.8,235.8L734.3,234.5L736.5,233.0L738.2,231.3L739.6,229.7L740.5,228.2L741.1,226.9L741.4,225.9L741.6,225.2L741.6,225.0L741.6,225.2L741.7,225.9L742.0,226.9L742.7,228.2L743.6,229.7L745.0,231.3L746.7,233.0L748.8,234.5L751.3,235.8L754.1,236.8L757.1,237.5L760.2,237.7L763.2,237.5L766.2,236.8L769.0,235.8L771.5,234.5L773.6,233.0L775.3,231.3L776.7,229.7L777.6,228.2L778.3,226.9L778.6,225.9L778.7,225.2L778.7,225.0L778.7,225.2L778.9,225.9L779.2,226.9L779.8,228.2L780.7,229.7L782.1,231.3L783.8,233.0L786.0,234.5L788.5,235.8L791.2,236.8L794.2,237.5L797.3,237.7L800.4,237.5L803.3,236.8L806.1,235.8L808.6,234.5L810.7,233.0L812.5,231.3L813.8,229.7L814.8,228.2L815.4,226.9L815.7,225.9L815.8,225.2L815.9,225.0L815.9,225.2L816.0,225.9L816.3,226.9L816.9,228.2L817.9,229.7L819.2,231.3L821.0,233.0L823.1,234.5L825.6,235.8L828.4,236.8L831.3,237.5L834.4,237.7L837.5,237.5L840.5,236.8L843.2,235.8L845.7,234.5L847.9,233.0L849.6,231.3L851.0,229.7L851.9,228.2L852.5,226.9L852.9,225.9L853.0,225.2L853.0,225.0L853.0,225.2L853.1,225.9L853.5,226.9L854.1,228.2L855.0,229.7L856.4,231.3L858.1,233.0L860.3,234.5L862.7,235.8L865.5,236.8L868.5,237.5L871.6,237.7L874.6,237.5L877.6,236.8L880.4,235.8L882.9,234.5L885.0,233.0L886.8,231.3L888.1,229.7L889.1,228.2L889.7,226.9L890.0,225.9L890.1,225.2L890.1,225.0L890.1,225.2L890.3,225.9L890.6,226.9L891.2,228.2L892.2,229.7L893.5,231.3L895.3,233.0L897.4,234.5L899.9,235.8L902.6,236.8L905.6,237.5L908.7,237.7L911.8,237.5L914.7,236.8L917.5,235.8L920.0,234.5L922.1,233.0L923.9,231.3L925.2,229.7L926.2,228.2L926.8,226.9L927.1,225.9L927.2,225.2L927.3,225.0L927.3,640L-38.3,640Z" fill="#5891d5"/>
<path d="M-38.3,233.2L-38.3,233.4L-38.1,234.1L-37.8,235.1L-37.2,236.4L-36.2,237.9L-34.9,239.5L-33.1,241.2L-31.0,242.7L-28.5,244.0L-25.8,245.0L-22.8,245.7L-19.7,245.9L-16.6,245.7L-13.7,245.0L-10.9,244.0L-8.4,242.7L-6.3,241.2L-4.5,239.5L-3.2,237.9L-2.2,236.4L-1.6,235.1L-1.3,234.1L-1.2,233.4L-1.1,233.2L-1.1,233.4L-1.0,234.1L-0.7,235.1L-0.1,236.4L0.9,237.9L2.2,239.5L4.0,241.2L6.1,242.7L8.6,244.0L11.4,245.0L14.4,245.7L17.4,245.9L20.5,245.7L23.5,245.0L26.3,244.0L28.7,242.7L30.9,241.2L32.6,239.5L34.0,237.9L34.9,236.4L35.5,235.1L35.9,234.1L36.0,233.4L36.0,233.2L36.0,233.4L36.1,234.1L36.5,235.1L37.1,236.4L38.0,237.9L39.4,239.5L41.1,241.2L43.3,242.7L45.7,244.0L48.5,245.0L51.5,245.7L54.6,245.9L57.6,245.7L60.6,245.0L63.4,244.0L65.9,242.7L68.0,241.2L69.8,239.5L71.1,237.9L72.1,236.4L72.7,235.1L73.0,234.1L73.1,233.4L73.1,233.2L73.2,233.4L73.3,234.1L73.6,235.1L74.2,236.4L75.2,237.9L76.5,239.5L78.3,241.2L80.4,242.7L82.9,244.0L85.7,245.0L88.6,245.7L91.7,245.9L94.8,245.7L97.8,245.0L100.5,244.0L103.0,242.7L105.1,241.2L106.9,239.5L108.2,237.9L109.2,236.4L109.8,235.1L110.1,234.1L110.3,233.4L110.3,233.2L110.3,233.4L110.4,234.1L110.7,235.1L111.3,236.4L112.3,237.9L113.6,239.5L115.4,241.2L117.5,242.7L120.0,244.0L122.8,245.0L125.8,245.7L128.8,245.9L131.9,245.7L134.9,245.0L137.7,244.0L140.1,242.7L142.3,241.2L144.0,239.5L145.4,237.9L146.3,236.4L146.9,235.1L147.3,234.1L147.4,233.4L147.4,233.2L147.4,233.4L147.5,234.1L147.9,235.1L148.5,236.4L149.4,237.9L150.8,239.5L152.5,241.2L154.7,242.7L157.2,244.0L159.9,245.0L162.9,245.7L166.0,245.9L169.1,245.7L172.0,245.0L174.8,244.0L177.3,242.7L179.4,241.2L181.2,239.5L182.5,237.9L183.5,236.4L184.1,235.1L184.4,234.1L184.5,233.4L184.5,233.2L184.6,233.4L184.7,234.1L185.0,235.1L185.6,236.4L186.6,237.9L187.9,239.5L189.7,241.2L191.8,242.7L194.3,244.0L197.1,245.0L200.0,245.7L203.1,245.9L206.2,245.7L209.2,245.0L211.9,244.0L214.4,242.7L216.6,241.2L218.3,239.5L219.7,237.9L220.6,236.4L221.2,235.1L221.5,234.1L221.7,233.4L221.7,233.2L221.7,233.4L221.8,234.1L222.1,235.1L222.8,236.4L223.7,237.9L225.1,239.5L226.8,241.2L228.9,242.7L231.4,244.0L234.2,245.0L237.2,245.7L240.2,245.9L243.3,245.7L246.3,245.0L249.1,244.0L251.6,242.7L253.7,241.2L255.4,239.5L256.8,237.9L257.7,236.4L258.4,235.1L258.7,234.1L258.8,233.4L258.8,233.2L258.8,233.4L259.0,234.1L259.3,235.1L259.9,236.4L260.8,237.9L262.2,239.5L263.9,241.2L266.1,242.7L268.6,244.0L271.3,245.0L274.3,245.7L277.4,245.9L280.5,245.7L283.4,245.0L286.2,244.0L288.7,242.7L290.8,241.2L292.6,239.5L293.9,237.9L294.9,236.4L295.5,235.1L295.8,234.1L295.9,233.4L296.0,233.2L296.0,233.4L296.1,234.1L296.4,235.1L297.0,236.4L298.0,237.9L299.3,239.5L301.1,241.2L303.2,242.7L305.7,244.0L308.5,245.0L311.4,245.7L314.5,245.9L317.6,245.7L320.6,245.0L323.3,244.0L325.8,242.7L328.0,241.2L329.7,239.5L331.1,237.9L332.0,236.4L332.6,235.1L332.9,234.1L333.1,233.4L333.1,233.2L333.1,233.4L333.2,234.1L333.6,235.1L334.2,236.4L335.1,237.9L336.5,239.5L338.2,241.2L340.3,242.7L342.8,244.0L345.6,245.0L348.6,245.7L351.7,245.9L354.7,245.7L357.7,245.0L360.5,244.0L363.0,242.7L365.1,241.2L366.9,239.5L368.2,237.9L369.2,236.4L369.8,235.1L370.1,234.1L370.2,233.4L370.2,233.2L370.2,233.4L370.4,234.1L370.7,235.1L371.3,236.4L372.3,237.9L373.6,239.5L375.3,241.2L377.5,242.7L380.0,244.0L382.7,245.0L385.7,245.7L388.8,245.9L391.9,245.7L394.8,245.0L397.6,244.0L400.1,242.7L402.2,241.2L404.0,239.5L405.3,237.9L406.3,236.4L406.9,235.1L407.2,234.1L407.3,233.4L407.4,233.2L407.4,233.4L407.5,234.1L407.8,235.1L408.4,236.4L409.4,237.9L410.7,239.5L412.5,241.2L414.6,242.7L417.1,244.0L419.9,245.0L422.9,245.7L425.9,245.9L429.0,245.7L432.0,245.0L434.7,244.0L437.2,242.7L439.4,241.2L441.1,239.5L442.5,237.9L443.4,236.4L444.0,235.1L444.4,234.1L444.5,233.4L444.5,233.2L444.5,233.4L444.6,234.1L445.0,235.1L445.6,236.4L446.5,237.9L447.9,239.5L449.6,241.2L451.8,242.7L454.2,244.0L457.0,245.0L460.0,245.7L463.1,245.9L466.1,245.7L469.1,245.0L471.9,244.0L474.4,242.7L476.5,241.2L478.3,239.5L479.6,237.9L480.6,236.4L481.2,235.1L481.5,234.1L481.6,233.4L481.6,233.2L481.6,233.4L481.8,234.1L482.1,235.1L482.7,236.4L483.7,237.9L485.0,239.5L486.8,241.2L488.9,242.7L491.4,244.0L494.2,245.0L497.1,245.7L500.2,245.9L503.3,245.7L506.2,245.0L509.0,244.0L511.5,242.7L513.6,241.2L515.4,239.5L516.7,237.9L517.7,236.4L518.3,235.1L518.6,234.1L518.8,233.4L518.8,233.2L518.8,233.4L518.9,234.1L519.2,235.1L519.8,236.4L520.8,237.9L522.1,239.5L523.9,241.2L526.0,242.7L528.5,244.0L531.3,245.0L534.3,245.7L537.3,245.9L540.4,245.7L543.4,245.0L546.2,244.0L548.6,242.7L550.8,241.2L552.5,239.5L553.9,237.9L554.8,236.4L555.4,235.1L555.8,234.1L555.9,233.4L555.9,233.2L555.9,233.4L556.0,234.1L556.4,235.1L557.0,236.4L557.9,237.9L559.3,239.5L561.0,241.2L563.2,242.7L565.7,244.0L568.4,245.0L571.4,245.7L574.5,245.9L577.5,245.7L580.5,245.0L583.3,244.0L585.8,242.7L587.9,241.2L589.7,239.5L591.0,237.9L592.0,236.4L592.6,235.1L592.9,234.1L593.0,233.4L593.0,233.2L593.1,233.4L593.2,234.1L593.5,235.1L594.1,236.4L595.1,237.9L596.4,239.5L598.2,241.2L600.3,242.7L602.8,244.0L605.6,245.0L608.5,245.7L611.6,245.9L614.7,245.7L617.7,245.0L620.4,244.0L622.9,242.7L625.1,241.2L626.8,239.5L628.1,237.9L629.1,236.4L629.7,235.1L630.0,234.1L630.2,233.4L630.2,233.2L630.2,233.4L630.3,234.1L630.6,235.1L631.2,236.4L632.2,237.9L633.5,239.5L635.3,241.2L637.4,242.7L639.9,244.0L642.7,245.0L645.7,245.7L648.7,245.9L651.8,245.7L654.8,245.0L657.6,244.0L660.1,242.7L662.2,241.2L663.9,239.5L665.3,237.9L666.2,236.4L666.8,235.1L667.2,234.1L667.3,233.4L667.3,233.2L667.3,233.4L667.5,234.1L667.8,235.1L668.4,236.4L669.3,237.9L670.7,239.5L672.4,241.2L674.6,242.7L677.1,244.0L679.8,245.0L682.8,245.7L685.9,245.9L689.0,245.7L691.9,245.0L694.7,244.0L697.2,242.7L699.3,241.2L701.1,239.5L702.4,237.9L703.4,236.4L704.0,235.1L704.3,234.1L704.4,233.4L704.4,233.2L704.5,233.4L704.6,234.1L704.9,235.1L705.5,236.4L706.5,237.9L707.8,239.5L709.6,241.2L711.7,242.7L714.2,244.0L717.0,245.0L719.9,245.7L723.0,245.9L726.1,245.7L729.1,245.0L731.8,244.0L734.3,242.7L736.5,241.2L738.2,239.5L739.6,237.9L740.5,236.4L741.1,235.1L741.4,234.1L741.6,233.4L741.6,233.2L741.6,233.4L741.7,234.1L742.0,235.1L742.7,236.4L743.6,237.9L745.0,239.5L746.7,241.2L748.8,242.7L751.3,244.0L754.1,245.0L757.1,245.7L760.2,245.9L763.2,245.7L766.2,245.0L769.0,244.0L771.5,242.7L773.6,241.2L775.3,239.5L776.7,237.9L777.6,236.4L778.3,235.1L778.6,234.1L778.7,233.4L778.7,233.2L778.7,233.4L778.9,234.1L779.2,235.1L779.8,236.4L780.7,237.9L782.1,239.5L783.8,241.2L786.0,242.7L788.5,244.0L791.2,245.0L794.2,245.7L797.3,245.9L800.4,245.7L803.3,245.0L806.1,244.0L808.6,242.7L810.7,241.2L812.5,239.5L813.8,237.9L814.8,236.4L815.4,235.1L815.7,234.1L815.8,233.4L815.9,233.2L815.9,233.4L816.0,234.1L816.3,235.1L816.9,236.4L817.9,237.9L819.2,239.5L821.0,241.2L823.1,242.7L825.6,244.0L828.4,245.0L831.3,245.7L834.4,245.9L837.5,245.7L840.5,245.0L843.2,244.0L845.7,242.7L847.9,241.2L849.6,239.5L851.0,237.9L851.9,236.4L852.5,235.1L852.9,234.1L853.0,233.4L853.0,233.2L853.0,233.4L853.1,234.1L853.5,235.1L854.1,236.4L855.0,237.9L856.4,239.5L858.1,241.2L860.3,242.7L862.7,244.0L865.5,245.0L868.5,245.7L871.6,245.9L874.6,245.7L877.6,245.0L880.4,244.0L882.9,242.7L885.0,241.2L886.8,239.5L888.1,237.9L889.1,236.4L889.7,235.1L890.0,234.1L890.1,233.4L890.1,233.2L890.1,233.4L890.3,234.1L890.6,235.1L891.2,236.4L892.2,237.9L893.5,239.5L895.3,241.2L897.4,242.7L899.9,244.0L902.6,245.0L905.6,245.7L908.7,245.9L911.8,245.7L914.7,245.0L917.5,244.0L920.0,242.7L922.1,241.2L923.9,239.5L925.2,237.9L926.2,236.4L926.8,235.1L927.1,234.1L927.2,233.4L927.3,233.2L927.3,640L-38.3,640Z" fill="#a8c5ea"/>
<path d="M-38.3,241.5L-38.3,241.7L-38.1,242.4L-37.8,243.6L-37.2,245.0L-36.2,246.7L-34.9,248.5L-33.1,250.3L-31.0,252.0L-28.5,253.4L-25.8,254.6L-22.8,255.3L-19.7,255.5L-16.6,255.3L-13.7,254.6L-10.9,253.4L-8.4,252.0L-6.3,250.3L-4.5,248.5L-3.2,246.7L-2.2,245.0L-1.6,243.6L-1.3,242.4L-1.2,241.7L-1.1,241.5L-1.1,241.7L-1.0,242.4L-0.7,243.6L-0.1,245.0L0.9,246.7L2.2,248.5L4.0,250.3L6.1,252.0L8.6,253.4L11.4,254.6L14.4,255.3L17.4,255.5L20.5,255.3L23.5,254.6L26.3,253.4L28.7,252.0L30.9,250.3L32.6,248.5L34.0,246.7L34.9,245.0L35.5,243.6L35.9,242.4L36.0,241.7L36.0,241.5L36.0,241.7L36.1,242.4L36.5,243.6L37.1,245.0L38.0,246.7L39.4,248.5L41.1,250.3L43.3,252.0L45.7,253.4L48.5,254.6L51.5,255.3L54.6,255.5L57.6,255.3L60.6,254.6L63.4,253.4L65.9,252.0L68.0,250.3L69.8,248.5L71.1,246.7L72.1,245.0L72.7,243.6L73.0,242.4L73.1,241.7L73.1,241.5L73.2,241.7L73.3,242.4L73.6,243.6L74.2,245.0L75.2,246.7L76.5,248.5L78.3,250.3L80.4,252.0L82.9,253.4L85.7,254.6L88.6,255.3L91.7,255.5L94.8,255.3L97.8,254.6L100.5,253.4L103.0,252.0L105.1,250.3L106.9,248.5L108.2,246.7L109.2,245.0L109.8,243.6L110.1,242.4L110.3,241.7L110.3,241.5L110.3,241.7L110.4,242.4L110.7,243.6L111.3,245.0L112.3,246.7L113.6,248.5L115.4,250.3L117.5,252.0L120.0,253.4L122.8,254.6L125.8,255.3L128.8,255.5L131.9,255.3L134.9,254.6L137.7,253.4L140.1,252.0L142.3,250.3L144.0,248.5L145.4,246.7L146.3,245.0L146.9,243.6L147.3,242.4L147.4,241.7L147.4,241.5L147.4,241.7L147.5,242.4L147.9,243.6L148.5,245.0L149.4,246.7L150.8,248.5L152.5,250.3L154.7,252.0L157.2,253.4L159.9,254.6L162.9,255.3L166.0,255.5L169.1,255.3L172.0,254.6L174.8,253.4L177.3,252.0L179.4,250.3L181.2,248.5L182.5,246.7L183.5,245.0L184.1,243.6L184.4,242.4L184.5,241.7L184.5,241.5L184.6,241.7L184.7,242.4L185.0,243.6L185.6,245.0L186.6,246.7L187.9,248.5L189.7,250.3L191.8,252.0L194.3,253.4L197.1,254.6L200.0,255.3L203.1,255.5L206.2,255.3L209.2,254.6L211.9,253.4L214.4,252.0L216.6,250.3L218.3,248.5L219.7,246.7L220.6,245.0L221.2,243.6L221.5,242.4L221.7,241.7L221.7,241.5L221.7,241.7L221.8,242.4L222.1,243.6L222.8,245.0L223.7,246.7L225.1,248.5L226.8,250.3L228.9,252.0L231.4,253.4L234.2,254.6L237.2,255.3L240.2,255.5L243.3,255.3L246.3,254.6L249.1,253.4L251.6,252.0L253.7,250.3L255.4,248.5L256.8,246.7L257.7,245.0L258.4,243.6L258.7,242.4L258.8,241.7L258.8,241.5L258.8,241.7L259.0,242.4L259.3,243.6L259.9,245.0L260.8,246.7L262.2,248.5L263.9,250.3L266.1,252.0L268.6,253.4L271.3,254.6L274.3,255.3L277.4,255.5L280.5,255.3L283.4,254.6L286.2,253.4L288.7,252.0L290.8,250.3L292.6,248.5L293.9,246.7L294.9,245.0L295.5,243.6L295.8,242.4L295.9,241.7L296.0,241.5L296.0,241.7L296.1,242.4L296.4,243.6L297.0,245.0L298.0,246.7L299.3,248.5L301.1,250.3L303.2,252.0L305.7,253.4L308.5,254.6L311.4,255.3L314.5,255.5L317.6,255.3L320.6,254.6L323.3,253.4L325.8,252.0L328.0,250.3L329.7,248.5L331.1,246.7L332.0,245.0L332.6,243.6L332.9,242.4L333.1,241.7L333.1,241.5L333.1,241.7L333.2,242.4L333.6,243.6L334.2,245.0L335.1,246.7L336.5,248.5L338.2,250.3L340.3,252.0L342.8,253.4L345.6,254.6L348.6,255.3L351.7,255.5L354.7,255.3L357.7,254.6L360.5,253.4L363.0,252.0L365.1,250.3L366.9,248.5L368.2,246.7L369.2,245.0L369.8,243.6L370.1,242.4L370.2,241.7L370.2,241.5L370.2,241.7L370.4,242.4L370.7,243.6L371.3,245.0L372.3,246.7L373.6,248.5L375.3,250.3L377.5,252.0L380.0,253.4L382.7,254.6L385.7,255.3L388.8,255.5L391.9,255.3L394.8,254.6L397.6,253.4L400.1,252.0L402.2,250.3L404.0,248.5L405.3,246.7L406.3,245.0L406.9,243.6L407.2,242.4L407.3,241.7L407.4,241.5L407.4,241.7L407.5,242.4L407.8,243.6L408.4,245.0L409.4,246.7L410.7,248.5L412.5,250.3L414.6,252.0L417.1,253.4L419.9,254.6L422.9,255.3L425.9,255.5L429.0,255.3L432.0,254.6L434.7,253.4L437.2,252.0L439.4,250.3L441.1,248.5L442.5,246.7L443.4,245.0L444.0,243.6L444.4,242.4L444.5,241.7L444.5,241.5L444.5,241.7L444.6,242.4L445.0,243.6L445.6,245.0L446.5,246.7L447.9,248.5L449.6,250.3L451.8,252.0L454.2,253.4L457.0,254.6L460.0,255.3L463.1,255.5L466.1,255.3L469.1,254.6L471.9,253.4L474.4,252.0L476.5,250.3L478.3,248.5L479.6,246.7L480.6,245.0L481.2,243.6L481.5,242.4L481.6,241.7L481.6,241.5L481.6,241.7L481.8,242.4L482.1,243.6L482.7,245.0L483.7,246.7L485.0,248.5L486.8,250.3L488.9,252.0L491.4,253.4L494.2,254.6L497.1,255.3L500.2,255.5L503.3,255.3L506.2,254.6L509.0,253.4L511.5,252.0L513.6,250.3L515.4,248.5L516.7,246.7L517.7,245.0L518.3,243.6L518.6,242.4L518.8,241.7L518.8,241.5L518.8,241.7L518.9,242.4L519.2,243.6L519.8,245.0L520.8,246.7L522.1,248.5L523.9,250.3L526.0,252.0L528.5,253.4L531.3,254.6L534.3,255.3L537.3,255.5L540.4,255.3L543.4,254.6L546.2,253.4L548.6,252.0L550.8,250.3L552.5,248.5L553.9,246.7L554.8,245.0L555.4,243.6L555.8,242.4L555.9,241.7L555.9,241.5L555.9,241.7L556.0,242.4L556.4,243.6L557.0,245.0L557.9,246.7L559.3,248.5L561.0,250.3L563.2,252.0L565.7,253.4L568.4,254.6L571.4,255.3L574.5,255.5L577.5,255.3L580.5,254.6L583.3,253.4L585.8,252.0L587.9,250.3L589.7,248.5L591.0,246.7L592.0,245.0L592.6,243.6L592.9,242.4L593.0,241.7L593.0,241.5L593.1,241.7L593.2,242.4L593.5,243.6L594.1,245.0L595.1,246.7L596.4,248.5L598.2,250.3L600.3,252.0L602.8,253.4L605.6,254.6L608.5,255.3L611.6,255.5L614.7,255.3L617.7,254.6L620.4,253.4L622.9,252.0L625.1,250.3L626.8,248.5L628.1,246.7L629.1,245.0L629.7,243.6L630.0,242.4L630.2,241.7L630.2,241.5L630.2,241.7L630.3,242.4L630.6,243.6L631.2,245.0L632.2,246.7L633.5,248.5L635.3,250.3L637.4,252.0L639.9,253.4L642.7,254.6L645.7,255.3L648.7,255.5L651.8,255.3L654.8,254.6L657.6,253.4L660.1,252.0L662.2,250.3L663.9,248.5L665.3,246.7L666.2,245.0L666.8,243.6L667.2,242.4L667.3,241.7L667.3,241.5L667.3,241.7L667.5,242.4L667.8,243.6L668.4,245.0L669.3,246.7L670.7,248.5L672.4,250.3L674.6,252.0L677.1,253.4L679.8,254.6L682.8,255.3L685.9,255.5L689.0,255.3L691.9,254.6L694.7,253.4L697.2,252.0L699.3,250.3L701.1,248.5L702.4,246.7L703.4,245.0L704.0,243.6L704.3,242.4L704.4,241.7L704.4,241.5L704.5,241.7L704.6,242.4L704.9,243.6L705.5,245.0L706.5,246.7L707.8,248.5L709.6,250.3L711.7,252.0L714.2,253.4L717.0,254.6L719.9,255.3L723.0,255.5L726.1,255.3L729.1,254.6L731.8,253.4L734.3,252.0L736.5,250.3L738.2,248.5L739.6,246.7L740.5,245.0L741.1,243.6L741.4,242.4L741.6,241.7L741.6,241.5L741.6,241.7L741.7,242.4L742.0,243.6L742.7,245.0L743.6,246.7L745.0,248.5L746.7,250.3L748.8,252.0L751.3,253.4L754.1,254.6L757.1,255.3L760.2,255.5L763.2,255.3L766.2,254.6L769.0,253.4L771.5,252.0L773.6,250.3L775.3,248.5L776.7,246.7L777.6,245.0L778.3,243.6L778.6,242.4L778.7,241.7L778.7,241.5L778.7,241.7L778.9,242.4L779.2,243.6L779.8,245.0L780.7,246.7L782.1,248.5L783.8,250.3L786.0,252.0L788.5,253.4L791.2,254.6L794.2,255.3L797.3,255.5L800.4,255.3L803.3,254.6L806.1,253.4L808.6,252.0L810.7,250.3L812.5,248.5L813.8,246.7L814.8,245.0L815.4,243.6L815.7,242.4L815.8,241.7L815.9,241.5L815.9,241.7L816.0,242.4L816.3,243.6L816.9,245.0L817.9,246.7L819.2,248.5L821.0,250.3L823.1,252.0L825.6,253.4L828.4,254.6L831.3,255.3L834.4,255.5L837.5,255.3L840.5,254.6L843.2,253.4L845.7,252.0L847.9,250.3L849.6,248.5L851.0,246.7L851.9,245.0L852.5,243.6L852.9,242.4L853.0,241.7L853.0,241.5L853.0,241.7L853.1,242.4L853.5,243.6L854.1,245.0L855.0,246.7L856.4,248.5L858.1,250.3L860.3,252.0L862.7,253.4L865.5,254.6L868.5,255.3L871.6,255.5L874.6,255.3L877.6,254.6L880.4,253.4L882.9,252.0L885.0,250.3L886.8,248.5L888.1,246.7L889.1,245.0L889.7,243.6L890.0,242.4L890.1,241.7L890.1,241.5L890.1,241.7L890.3,242.4L890.6,243.6L891.2,245.0L892.2,246.7L893.5,248.5L895.3,250.3L897.4,252.0L899.9,253.4L902.6,254.6L905.6,255.3L908.7,255.5L911.8,255.3L914.7,254.6L917.5,253.4L920.0,252.0L922.1,250.3L923.9,248.5L925.2,246.7L926.2,245.0L926.8,243.6L927.1,242.4L927.2,241.7L927.3,241.5L927.3,640L-38.3,640Z" fill="#83acda"/>
<!-- seabed -->
<path d="M403,515.8A266.10,266.10 0 0 1 480,515.3" fill="none" stroke="#04af2f" stroke-width="6.6"/>

<path d="M40.0,650.0C50.0,645.7 85.1,629.8 100.0,624.0C114.9,618.2 119.4,618.4 129.4,615.2C139.4,612.0 151.6,608.2 160.0,605.0C168.4,601.8 171.8,599.6 180.0,596.0C188.2,592.4 199.4,587.7 209.4,583.5C219.4,579.3 228.2,576.1 240.0,571.0C251.8,565.9 268.4,558.1 280.0,552.7C291.6,547.3 299.4,542.9 309.4,538.7C319.4,534.6 329.9,531.0 340.0,527.8C350.1,524.6 360.0,521.5 370.0,519.5C380.0,517.5 391.2,516.4 400.0,515.7C408.8,515.0 415.2,515.1 422.9,515.3C430.6,515.5 438.4,516.1 446.1,516.7C453.9,517.3 461.6,517.9 469.4,519.0C477.1,520.1 484.9,521.5 492.6,523.2C500.3,524.9 509.6,527.3 515.8,529.0C522.0,530.7 522.6,530.8 530.0,533.3C537.4,535.8 550.0,540.1 560.0,543.8C570.0,547.5 580.0,551.1 590.0,555.5C600.0,559.9 610.0,565.4 620.0,570.2C630.0,575.0 640.0,579.5 650.0,584.5C660.0,589.5 672.7,596.6 680.0,600.5C687.3,604.4 689.4,605.4 694.0,607.6C698.6,609.8 703.3,611.8 707.9,613.5C712.5,615.2 717.2,616.7 721.8,617.6C726.4,618.5 731.1,619.0 735.7,619.0C740.4,619.0 745.1,618.5 749.7,617.9C754.4,617.2 759.0,616.2 763.6,615.1C768.2,614.0 773.0,612.6 777.6,611.2C782.2,609.8 787.8,607.8 791.5,606.5C795.2,605.2 793.5,605.9 800.0,603.5C806.5,601.1 820.3,596.1 830.5,592.3C840.7,588.4 851.1,584.3 861.0,580.4C870.9,576.5 885.2,570.9 890.0,569.0L890,660L40,660Z" fill="#7e5a00" stroke="#9a8b5e" stroke-width="1.6"/>
<!-- arcs -->
<g fill="none" stroke="#f86560" stroke-width="6.6"><path d="M409.4,245.2A327.70,327.70 0 0 0 485.2,243.6"/><path d="M396.5,278.0A280.69,280.69 0 0 0 495.5,276.7"/><path d="M384.3,311.5A207.80,207.80 0 0 0 508.5,309.0"/><path d="M369.5,353.0A175.10,175.10 0 0 0 522.7,350.1"/><path d="M350.8,394.7A188.03,188.03 0 0 0 539.2,393.3"/><path d="M328.7,454.2A187.19,187.19 0 0 0 560.0,453.4"/></g>
<g fill="none" stroke="#04af2f" stroke-width="6.6"><path d="M328.1,306.9A187.29,187.29 0 0 1 560.6,304.6"/><path d="M350.1,365.2A191.85,191.85 0 0 1 537.0,363.8"/><path d="M365.9,407.6A193.10,193.10 0 0 1 519.8,404.8"/><path d="M380.4,450.5A199.82,199.82 0 0 1 504.3,447.9"/><path d="M393.0,483.4A252.05,252.05 0 0 1 490.9,482.0"/></g>
<!-- text -->
<text x="203.2" y="275.9" font-size="30" fill="#f36666" textLength="144.5" lengthAdjust="spacingAndGlyphs">Transmitter</text>
<text x="567.4" y="279.9" font-size="30" fill="#0b8038" textLength="138.2" lengthAdjust="spacingAndGlyphs">Transducer</text>
<text x="662" y="465.2" font-size="30" fill="#1454da" textLength="81" lengthAdjust="spacingAndGlyphs">Ocean</text>
<text x="363.5" y="570.5" font-size="30" fill="#0a0500" textLength="93.8" lengthAdjust="spacingAndGlyphs">Seabed</text>
</svg>
</body></html>
